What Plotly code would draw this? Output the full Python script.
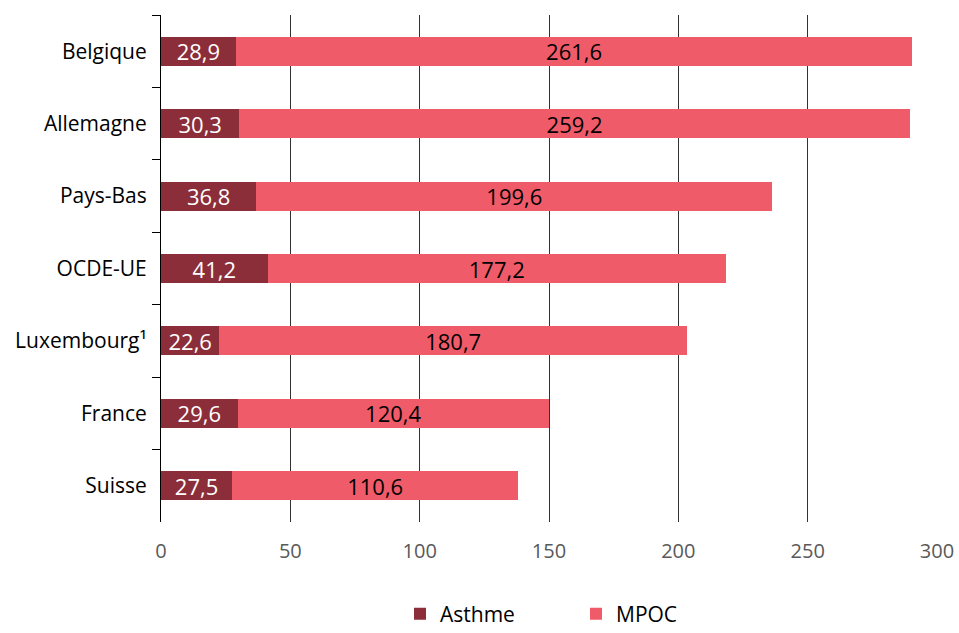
import plotly.graph_objects as go

# Hospital admission rates by country (per 100 000 population)
countries = ["Belgique", "Allemagne", "Pays-Bas", "OCDE-UE", "Luxembourg¹", "France", "Suisse"]
asthme = [28.9, 30.3, 36.8, 41.2, 22.6, 29.6, 27.5]
mpoc = [261.6, 259.2, 199.6, 177.2, 180.7, 120.4, 110.6]
x_ticks = [0, 50, 100, 150, 200, 250, 300]

FONT = "Open Sans"
ASTHME_COLOR = "#8B2E39"
MPOC_COLOR = "#F05B69"


def fr(v):
    return f"{v:.1f}".replace(".", ",")


fig = go.Figure()
fig.add_trace(go.Bar(
    name="Asthme", y=countries, x=asthme, orientation="h",
    marker=dict(color=ASTHME_COLOR, line=dict(width=0)),
    text=[fr(v) for v in asthme], textposition="inside",
    insidetextanchor="middle", textangle=0, constraintext="none",
    textfont=dict(color="white", size=22, family=FONT),
    hoverinfo="skip",
))
fig.add_trace(go.Bar(
    name="MPOC", y=countries, x=mpoc, orientation="h",
    marker=dict(color=MPOC_COLOR, line=dict(width=0)),
    text=[fr(v) for v in mpoc], textposition="inside",
    insidetextanchor="middle", textangle=0, constraintext="none",
    textfont=dict(color="black", size=22, family=FONT),
    hoverinfo="skip",
))

fig.update_layout(
    barmode="stack",
    bargap=0.6,
    width=959, height=633,
    margin=dict(l=161, r=22, t=15, b=111, autoexpand=False),
    paper_bgcolor="white", plot_bgcolor="white",
    font=dict(family=FONT, size=20, color="black"),
    showlegend=True,
    legend=dict(
        orientation="h", x=0.308, xanchor="left", y=-0.222, yanchor="bottom",
        font=dict(size=21, family=FONT, color="black"),
        entrywidth=131, itemsizing="constant", traceorder="normal",
    ),
    xaxis=dict(
        range=[0, 300], tickvals=x_ticks, ticktext=[str(v) for v in x_ticks],
        showgrid=True, gridcolor="#333333", gridwidth=1,
        zeroline=False, showline=False, ticks="",
        tickfont=dict(size=20, color="#595959", family=FONT),
        ticklabelstandoff=15, fixedrange=True,
    ),
    yaxis=dict(
        autorange="reversed", showline=True, linecolor="black", linewidth=1,
        ticks="outside", tickson="boundaries", ticklen=8, tickcolor="black",
        tickfont=dict(size=21, color="black", family=FONT),
        ticklabelstandoff=9, showgrid=False, fixedrange=True,
    ),
)

fig.write_html("out.html")
